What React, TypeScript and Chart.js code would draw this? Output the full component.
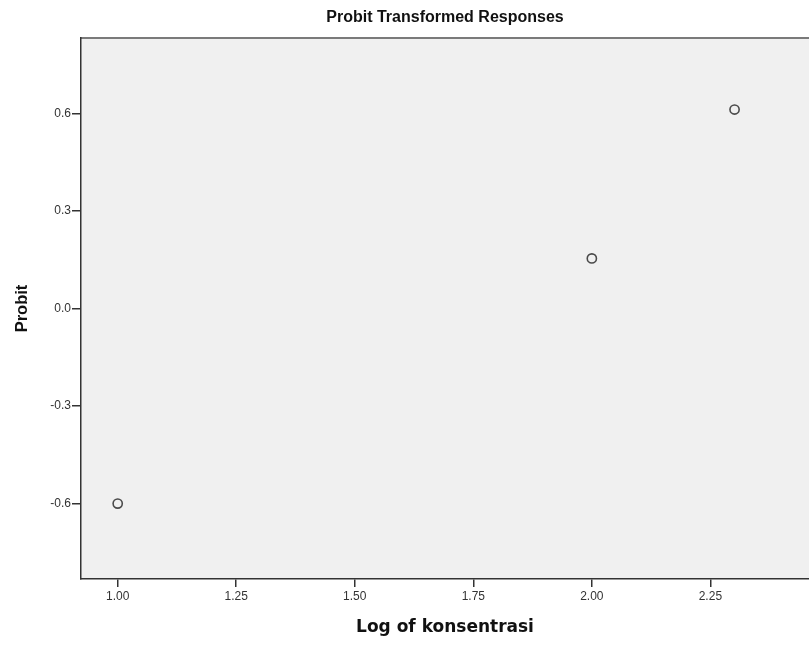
import React, { useEffect, useRef } from "react";
import { Chart, registerables } from "chart.js";

Chart.register(...registerables);

const logConcentration = [1.0, 2.0, 2.301];
const probitValues = [-0.6, 0.154, 0.612];
const xTickValues = [1.0, 1.25, 1.5, 1.75, 2.0, 2.25];
const yTickValues = [-0.6, -0.3, 0.0, 0.3, 0.6];

const chartTitle = "Probit Transformed Responses";
const xAxisTitle = "Log of konsentrasi";
const yAxisTitle = "Probit";

const plotBackground = {
  id: "plotBackground",
  beforeDraw(chart: any) {
    const { ctx, chartArea } = chart;
    if (!chartArea) return;
    ctx.save();
    ctx.fillStyle = "#f0f0f0";
    ctx.fillRect(chartArea.left, chartArea.top, chartArea.right - chartArea.left, chartArea.bottom - chartArea.top);
    ctx.strokeStyle = "#7a7a7a";
    ctx.lineWidth = 2;
    ctx.beginPath();
    ctx.moveTo(chartArea.left, chartArea.top);
    ctx.lineTo(chartArea.right, chartArea.top);
    ctx.stroke();
    ctx.restore();
  },
};

export default function App() {
  const canvasRef = useRef<HTMLCanvasElement | null>(null);

  useEffect(() => {
    if (!canvasRef.current) return;
    const chart = new Chart(canvasRef.current, {
      type: "scatter",
      data: {
        datasets: [
          {
            label: "Probit",
            data: logConcentration.map((x, i) => ({ x, y: probitValues[i] })),
            pointRadius: 4.6,
            pointHoverRadius: 4.6,
            pointBorderWidth: 1.6,
            borderColor: "#4a4a4a",
            backgroundColor: "rgba(0,0,0,0)",
            pointBackgroundColor: "rgba(0,0,0,0)",
            pointBorderColor: "#4a4a4a",
          },
        ],
      },
      options: {
        responsive: false,
        animation: false,
        layout: { autoPadding: false, padding: { left: 0, right: 0, top: 0, bottom: 0 } },
        plugins: {
          legend: { display: false },
          tooltip: { enabled: false },
          title: {
            display: true,
            text: chartTitle,
            fullSize: false,
            color: "#111",
            font: { family: "'Liberation Sans', Arial, sans-serif", size: 16, weight: "bold" },
            padding: { top: 8, bottom: 10.8 },
          },
        },
        scales: {
          x: {
            type: "linear",
            min: 0.9226,
            max: 2.458,
            afterFit: (scale: any) => {
              scale.height = 67;
              scale.paddingLeft = 0;
              scale.paddingRight = 0;
            },
            afterBuildTicks: (scale: any) => {
              scale.ticks = xTickValues.map((v) => ({ value: v }));
            },
            ticks: {
              color: "#333",
              font: { family: "'Liberation Sans', Arial, sans-serif", size: 12 },
              padding: 2,
              callback: (v: any) => Number(v).toFixed(2),
            },
            grid: {
              display: true,
              drawOnChartArea: false,
              drawTicks: true,
              tickLength: 8,
              color: "#333",
              lineWidth: 1.5,
            },
            border: { display: true, color: "#333", width: 1.5 },
            title: {
              display: true,
              text: xAxisTitle,
              color: "#111",
              font: { family: "'DejaVu Sans', Verdana, sans-serif", size: 17, weight: "bold" },
              padding: { top: 0, bottom: 7.8 },
            },
          },
          y: {
            type: "linear",
            min: -0.832,
            max: 0.832,
            afterFit: (scale: any) => {
              scale.width = 81;
              scale.paddingTop = 0;
              scale.paddingBottom = 0;
            },
            afterBuildTicks: (scale: any) => {
              scale.ticks = yTickValues.map((v) => ({ value: v }));
            },
            ticks: {
              color: "#333",
              font: { family: "'Liberation Sans', Arial, sans-serif", size: 12 },
              padding: 1,
              callback: (v: any) => Number(v).toFixed(1),
            },
            grid: {
              display: true,
              drawOnChartArea: false,
              drawTicks: true,
              tickLength: 9,
              color: "#333",
              lineWidth: 1.5,
            },
            border: { display: true, color: "#333", width: 1.5 },
            title: {
              display: true,
              text: yAxisTitle,
              color: "#111",
              font: { family: "'Liberation Sans', Arial, sans-serif", size: 16.5, weight: "bold" },
              padding: { top: 12.1, bottom: 0 },
            },
          },
        },
      },
      plugins: [plotBackground],
    });
    return () => chart.destroy();
  }, []);

  return (
    <div style={{ position: "absolute", left: 0, top: 0, width: 809, height: 646, background: "#fff" }}>
      <canvas ref={canvasRef} width={809} height={646} style={{ display: "block" }} />
    </div>
  );
}
